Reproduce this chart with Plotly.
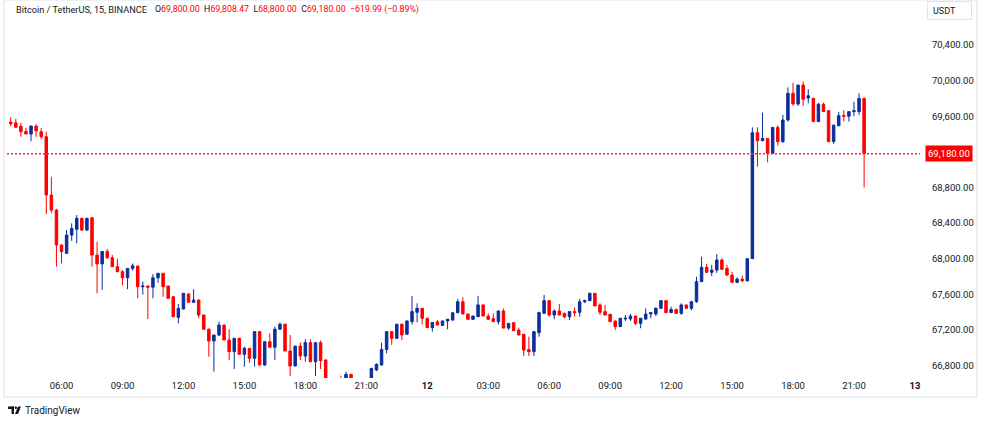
import pandas as pd
import plotly.graph_objects as go

# ---------------- data (BTC/USDT, 15-minute candles, Binance) ----------------
start_time = "2024-03-11 03:30"
opens = [69535, 69526, 69488, 69430, 69400, 69490, 69426, 69370, 68715, 68546,
         68153, 68060, 68265, 68330, 68453, 68321, 68460, 68040, 67940, 68080,
         68010, 67910, 67853, 67785, 67890, 67917, 67685, 67692, 67680, 67785,
         67835, 67692, 67572, 67340, 67434, 67603, 67510, 67535, 67367, 67207,
         67075, 67142, 67254, 67086, 66955, 67105, 66925, 66992, 66880, 67180,
         66805, 67067, 67005, 67207, 67264, 66962, 66794, 67018, 66906, 67056,
         66842, 67056, 66861, 66590, 66500, 66580, 66520, 66700, 66520, 66430,
         66510, 66590, 66749, 66805, 66980, 67180, 67105, 67264, 67150, 67292,
         67397, 67442, 67330, 67225, 67290, 67250, 67300, 67310, 67392, 67516,
         67378, 67318, 67348, 67480, 67355, 67326, 67292, 67412, 67220, 67280,
         67198, 67150, 66980, 66955, 67168, 67386, 67528, 67367, 67412, 67385,
         67347, 67405, 67397, 67516, 67528, 67610, 67480, 67405, 67375, 67300,
         67236, 67322, 67322, 67355, 67273, 67322, 67378, 67378, 67442, 67528,
         67393, 67430, 67385, 67480, 67442, 67516, 67741, 67903, 67847, 67872,
         67985, 67890, 67815, 67734, 67770, 67750, 68000, 69415, 69325, 69350,
         69183, 69475, 69315, 69558, 69858, 69737, 69950, 69805, 69802, 69540,
         69735, 69663, 69315, 69493, 69610, 69600, 69652, 69652, 69800]
highs = [69590, 69570, 69526, 69470, 69495, 69510, 69470, 69426, 68920, 68560,
         68160, 68321, 68397, 68490, 68460, 68460, 68465, 68190, 68080, 68110,
         68040, 68000, 67870, 67890, 67946, 67920, 67741, 67700, 67827, 67840,
         67840, 67695, 67575, 67490, 67610, 67610, 67656, 67540, 67370, 67215,
         67142, 67292, 67258, 67207, 67105, 67110, 67011, 66995, 67180, 67185,
         67067, 67160, 67236, 67282, 67268, 67142, 67018, 67060, 67094, 67094,
         67056, 67080, 66870, 66630, 66610, 66685, 66730, 66705, 66560, 66540,
         66610, 66770, 66824, 67056, 67180, 67185, 67264, 67268, 67305, 67580,
         67498, 67445, 67335, 67285, 67310, 67305, 67322, 67395, 67547, 67565,
         67380, 67358, 67580, 67485, 67385, 67385, 67415, 67440, 67275, 67285,
         67225, 67155, 67123, 67185, 67405, 67592, 67530, 67430, 67490, 67395,
         67405, 67453, 67547, 67540, 67618, 67612, 67498, 67480, 67378, 67302,
         67335, 67367, 67378, 67358, 67333, 67442, 67400, 67453, 67535, 67530,
         67460, 67432, 67498, 67482, 67527, 67797, 68022, 67940, 67930, 68052,
         68003, 67930, 67850, 67790, 67810, 68003, 69475, 69475, 69640, 69352,
         69478, 69500, 69615, 69925, 69977, 69955, 69990, 69903, 69805, 69752,
         69752, 69665, 69505, 69650, 69670, 69655, 69764, 69858, 69808.47]
lows = [69490, 69476, 69370, 69400, 69320, 69370, 69345, 68500, 68510, 67910,
        67946, 68055, 68200, 68172, 68315, 68315, 67910, 67610, 67650, 68000,
        67910, 67850, 67700, 67656, 67865, 67554, 67597, 67322, 67554, 67730,
        67572, 67554, 67347, 67273, 67430, 67510, 67505, 67330, 67200, 66898,
        66730, 67130, 67086, 66861, 66760, 66925, 66786, 66830, 66786, 66805,
        66800, 67000, 66861, 67200, 66962, 66681, 66790, 66861, 66842, 66842,
        66681, 66760, 66520, 66450, 66440, 66470, 66500, 66450, 66380, 66360,
        66480, 66560, 66736, 66800, 66936, 67030, 67100, 67086, 67145, 67260,
        67285, 67260, 67225, 67180, 67250, 67245, 67207, 67305, 67390, 67378,
        67318, 67315, 67345, 67355, 67310, 67290, 67260, 67220, 67200, 67190,
        67142, 66906, 66906, 66906, 67123, 67380, 67348, 67318, 67365, 67330,
        67310, 67348, 67348, 67500, 67525, 67468, 67367, 67365, 67292, 67198,
        67232, 67300, 67300, 67255, 67218, 67310, 67330, 67355, 67440, 67393,
        67390, 67385, 67370, 67442, 67420, 67505, 67740, 67835, 67805, 67840,
        67878, 67812, 67730, 67725, 67740, 67748, 67998, 69033, 69320, 69083,
        69180, 69270, 69300, 69540, 69720, 69715, 69715, 69745, 69540, 69535,
        69650, 69315, 69290, 69490, 69540, 69540, 69600, 69615, 68800]
closes = [69515, 69476, 69426, 69400, 69490, 69436, 69370, 68715, 68546, 68153,
          68080, 68265, 68340, 68453, 68321, 68453, 68040, 67940, 68080, 68010,
          67910, 67853, 67785, 67890, 67920, 67685, 67692, 67680, 67785, 67835,
          67685, 67554, 67347, 67442, 67610, 67510, 67535, 67367, 67207, 67075,
          67142, 67254, 67086, 66955, 67105, 66925, 66992, 66880, 67180, 66805,
          67067, 67005, 67207, 67264, 66962, 66794, 67018, 66906, 67056, 66842,
          67056, 66853, 66590, 66500, 66580, 66520, 66700, 66520, 66430, 66510,
          66590, 66768, 66812, 66980, 67180, 67105, 67264, 67142, 67300, 67405,
          67442, 67330, 67225, 67282, 67255, 67300, 67320, 67392, 67516, 67378,
          67318, 67355, 67480, 67355, 67318, 67292, 67412, 67220, 67273, 67190,
          67142, 66973, 66955, 67180, 67393, 67528, 67367, 67412, 67367, 67347,
          67405, 67393, 67516, 67528, 67610, 67468, 67397, 67367, 67292, 67236,
          67330, 67330, 67355, 67273, 67330, 67378, 67393, 67442, 67528, 67393,
          67430, 67385, 67480, 67442, 67516, 67741, 67903, 67847, 67872, 67985,
          67880, 67815, 67734, 67770, 67750, 68000, 69415, 69325, 69350, 69183,
          69475, 69315, 69558, 69858, 69737, 69950, 69790, 69830, 69540, 69735,
          69652, 69315, 69500, 69606, 69600, 69652, 69663, 69799.99, 69180]

price_ticks = [66800, 67200, 67600, 68000, 68400, 68800, 69600, 70000, 70400]
time_ticks = ["2024-03-11 06:00", "2024-03-11 09:00", "2024-03-11 12:00", "2024-03-11 15:00",
              "2024-03-11 18:00", "2024-03-11 21:00", "2024-03-12 00:00", "2024-03-12 03:00",
              "2024-03-12 06:00", "2024-03-12 09:00", "2024-03-12 12:00", "2024-03-12 15:00",
              "2024-03-12 18:00", "2024-03-12 21:00", "2024-03-13 00:00"]
time_labels = ["06:00", "09:00", "12:00", "15:00", "18:00", "21:00", "<b>12</b>", "03:00",
               "06:00", "09:00", "12:00", "15:00", "18:00", "21:00", "<b>13</b>"]
symbol_title = "Bitcoin / TetherUS, 15, BINANCE"
currency = "USDT"

times = pd.date_range(start_time, periods=len(closes), freq="15min")

# ---------------- styling ----------------
UP = "#0b2f9c"
DOWN = "#ff0000"
TXT = "#131722"
FONT = "Roboto, Liberation Sans, sans-serif"

W, H = 984, 425
ML, MR, MT, MB = 7, 64, 1, 47
PW, PH = W - ML - MR, H - MT - MB


def px(x):
    return (x - ML) / PW


def py(y):
    return (H - MB - y) / PH


fig = go.Figure(go.Candlestick(
    x=times, open=opens, high=highs, low=lows, close=closes,
    increasing=dict(line=dict(color=UP, width=1), fillcolor=UP),
    decreasing=dict(line=dict(color=DOWN, width=1), fillcolor=DOWN),
    whiskerwidth=0, hoverinfo="skip", showlegend=False,
))

last_close = closes[-1]
prev_close = closes[-2]
chg = last_close - prev_close
pct = chg / prev_close * 100


def fmt(v):
    return f"{v:,.2f}"


def signed(v):
    return ("\u2212" if v < 0 else "+") + f"{abs(v):,.2f}"


red = lambda s: f"<span style='color:{DOWN}'>{s}</span>"
sp = "&nbsp;&nbsp;"
ohlc_text = (f"O{red(fmt(opens[-1]))}{sp}H{red(fmt(highs[-1]))}{sp}L{red(fmt(lows[-1]))}"
             f"{sp}C{red(fmt(last_close))}{sp}"
             f"{red(signed(chg) + ' (' + ('−' if pct < 0 else '+') + f'{abs(pct):.2f}%)')}")

fig.update_layout(
    width=W, height=H,
    margin=dict(l=ML, r=MR, t=MT, b=MB),
    paper_bgcolor="white", plot_bgcolor="white",
    font=dict(family=FONT, color=TXT, size=9),
    xaxis=dict(
        type="date", rangeslider=dict(visible=False),
        range=["2024-03-11 03:19", "2024-03-13 00:15"],
        tickvals=time_ticks, ticktext=time_labels,
        showgrid=False, zeroline=False, showline=False, ticks="",
        tickfont=dict(size=9.5, color=TXT),
    ),
    yaxis=dict(
        side="right", range=[66659, 70895],
        tickvals=price_ticks, ticktext=[fmt(v) for v in price_ticks],
        showgrid=False, zeroline=False, showline=False, ticks="",
        ticklabelstandoff=11,
        tickfont=dict(size=9.5, color=TXT),
    ),
    shapes=[
        dict(type="line", xref="paper", x0=0, x1=1, yref="y", y0=last_close, y1=last_close,
             line=dict(color="#ff2a2a", width=1.5, dash="2px,2px")),
        dict(type="rect", xref="paper", yref="paper", x0=px(4), x1=px(977), y0=py(397), y1=py(0),
             line=dict(color="#e0e3eb", width=1)),
        # TradingView logo mark
        dict(type="rect", xref="paper", yref="paper", x0=px(8), x1=px(14), y0=py(409), y1=py(406.5),
             line=dict(width=0), fillcolor=TXT),
        dict(type="rect", xref="paper", yref="paper", x0=px(11.5), x1=px(14), y0=py(414), y1=py(406.5),
             line=dict(width=0), fillcolor=TXT),
        dict(type="circle", xref="paper", yref="paper", x0=px(14.6), x1=px(17), y0=py(409), y1=py(406.6),
             line=dict(width=0), fillcolor=TXT),
        dict(type="path", xref="paper", yref="paper",
             path=f"M {px(18)} {py(406.5)} L {px(21)} {py(406.5)} L {px(18)} {py(414)} L {px(15)} {py(414)} Z",
             line=dict(width=0), fillcolor=TXT),
    ],
    annotations=[
        dict(xref="paper", yref="paper", x=px(14), y=py(10), xanchor="left", yanchor="middle",
             text=symbol_title, showarrow=False, font=dict(size=9.2, color=TXT)),
        dict(xref="paper", yref="paper", x=px(153), y=py(10), xanchor="left", yanchor="middle",
             text=ohlc_text, showarrow=False, font=dict(size=8.8, color=TXT)),
        dict(xref="paper", yref="y", x=px(925), y=last_close, xanchor="left", yanchor="middle",
             text=fmt(last_close), showarrow=False, bgcolor=DOWN, borderpad=2,
             font=dict(size=9.5, color="white")),
        dict(xref="paper", yref="paper", x=px(927.5), y=py(1.5), xanchor="left", yanchor="top",
             text=currency, showarrow=False, bordercolor="#e0e3eb", borderwidth=1, borderpad=5,
             width=33, height=7, align="left", font=dict(size=9, color=TXT)),
        dict(xref="paper", yref="paper", x=px(23), y=py(410), xanchor="left", yanchor="middle",
             text="TradingView", showarrow=False, font=dict(size=10, color=TXT)),
    ],
)

fig.write_html("out.html")
